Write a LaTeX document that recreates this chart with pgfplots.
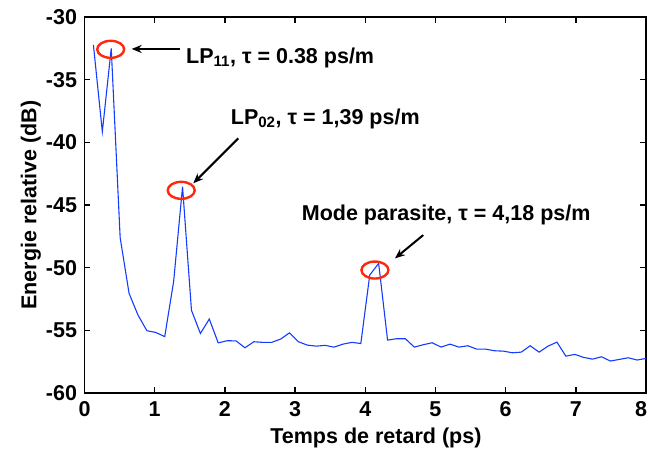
\documentclass[border=0pt]{standalone}
\usepackage{pgfplots}
\pgfplotsset{compat=1.18}
\usepackage{fontspec}
\setmainfont{Liberation Sans}
\usetikzlibrary{arrows.meta}
\definecolor{curveblue}{RGB}{20,60,255}
\definecolor{ellred}{RGB}{255,40,10}
\begin{document}
\begin{tikzpicture}
\path[use as bounding box] (-84.5pt,-57pt) rectangle (563.5pt,393pt);
\begin{axis}[
  at={(0pt,0pt)}, anchor=south west,
  scale only axis,
  width=561.5pt, height=376pt,
  xmin=0, xmax=8, ymin=-60, ymax=-30,
  xtick={0,1,...,7}, ytick={-60,-55,...,-30},
  extra x ticks={8},
  extra x tick style={xticklabel style={xshift=-5pt}},
  tick align=inside,
  major tick length=6pt,
  axis line style={line width=1.6pt},
  every tick/.style={black, line width=1.4pt},
  /pgf/number format/assume math mode=true,
  ticklabel style={font=\fontsize{21.5}{25}\selectfont\bfseries},
  xticklabel style={yshift=-5pt},
  yticklabel style={xshift=-4pt},
  xlabel={Temps de retard (ps)},
  ylabel={Energie relative (dB)},
  label style={font=\fontsize{21.5}{25}\selectfont\bfseries},
  xlabel style={at={(axis description cs:0.519,0)}, anchor=north, yshift=-31pt},
  ylabel style={yshift=-2pt},
  clip=false,
]
\addplot[curveblue, line width=1.1pt] coordinates {
(0.127,-32.23) (0.254,-39.15) (0.381,-32.5) (0.508,-47.6) (0.635,-52.05)
(0.762,-53.78) (0.889,-55.03) (1.016,-55.17) (1.143,-55.5) (1.27,-51.1)
(1.397,-43.54) (1.524,-53.4) (1.651,-55.25) (1.778,-54.1) (1.905,-56.0)
(2.032,-55.83) (2.159,-55.84) (2.286,-56.39) (2.413,-55.91) (2.54,-55.96)
(2.667,-55.96) (2.794,-55.7) (2.921,-55.2) (3.048,-55.91) (3.175,-56.18)
(3.302,-56.26) (3.429,-56.2) (3.556,-56.34) (3.683,-56.1) (3.81,-55.96)
(3.937,-56.05) (4.064,-50.59) (4.191,-49.66) (4.318,-55.78) (4.445,-55.67)
(4.572,-55.67) (4.699,-56.34) (4.826,-56.15) (4.953,-55.99) (5.08,-56.34)
(5.207,-56.1) (5.334,-56.34) (5.461,-56.23) (5.588,-56.5) (5.715,-56.5)
(5.842,-56.63) (5.969,-56.66) (6.096,-56.79) (6.223,-56.74) (6.35,-56.23)
(6.477,-56.74) (6.604,-56.26) (6.731,-55.94) (6.858,-57.06) (6.985,-56.92)
(7.112,-57.16) (7.239,-57.3) (7.366,-57.11) (7.493,-57.45) (7.62,-57.32)
(7.747,-57.19) (7.874,-57.37) (8.0,-57.24)
};
% annotations
\draw[ellred, line width=2.4pt] (axis cs:0.373,-32.58) ellipse [x radius=13.5pt, y radius=8.5pt];
\draw[ellred, line width=2.4pt] (axis cs:1.378,-43.83) ellipse [x radius=13.5pt, y radius=8.5pt];
\draw[ellred, line width=2.4pt] (axis cs:4.138,-50.19) ellipse [x radius=13.5pt, y radius=8.5pt];
\draw[black, line width=2pt, -{Stealth[length=10pt,width=8pt]}] (axis cs:1.360,-32.55) -- (axis cs:0.672,-32.55);
\draw[black, line width=2pt, -{Stealth[length=10pt,width=8pt]}] (axis cs:2.191,-39.68) -- (axis cs:1.550,-43.27);
\draw[black, line width=2pt, -{Stealth[length=10pt,width=8pt]}] (axis cs:4.826,-47.40) -- (axis cs:4.423,-49.26);
\node[anchor=base west, inner sep=0pt, font=\fontsize{21.5}{25}\selectfont\bfseries] at (axis cs:1.446,-33.70) {LP\textsubscript{11}, τ = 0.38 ps/m};
\node[anchor=base west, inner sep=0pt, font=\fontsize{21.5}{25}\selectfont\bfseries] at (axis cs:2.083,-38.54) {LP\textsubscript{02}, τ = 1,39 ps/m};
\node[anchor=base west, inner sep=0pt, font=\fontsize{21.5}{25}\selectfont\bfseries] at (axis cs:3.094,-46.26) {Mode parasite, τ = 4,18 ps/m};
\end{axis}
\end{tikzpicture}
\end{document}
